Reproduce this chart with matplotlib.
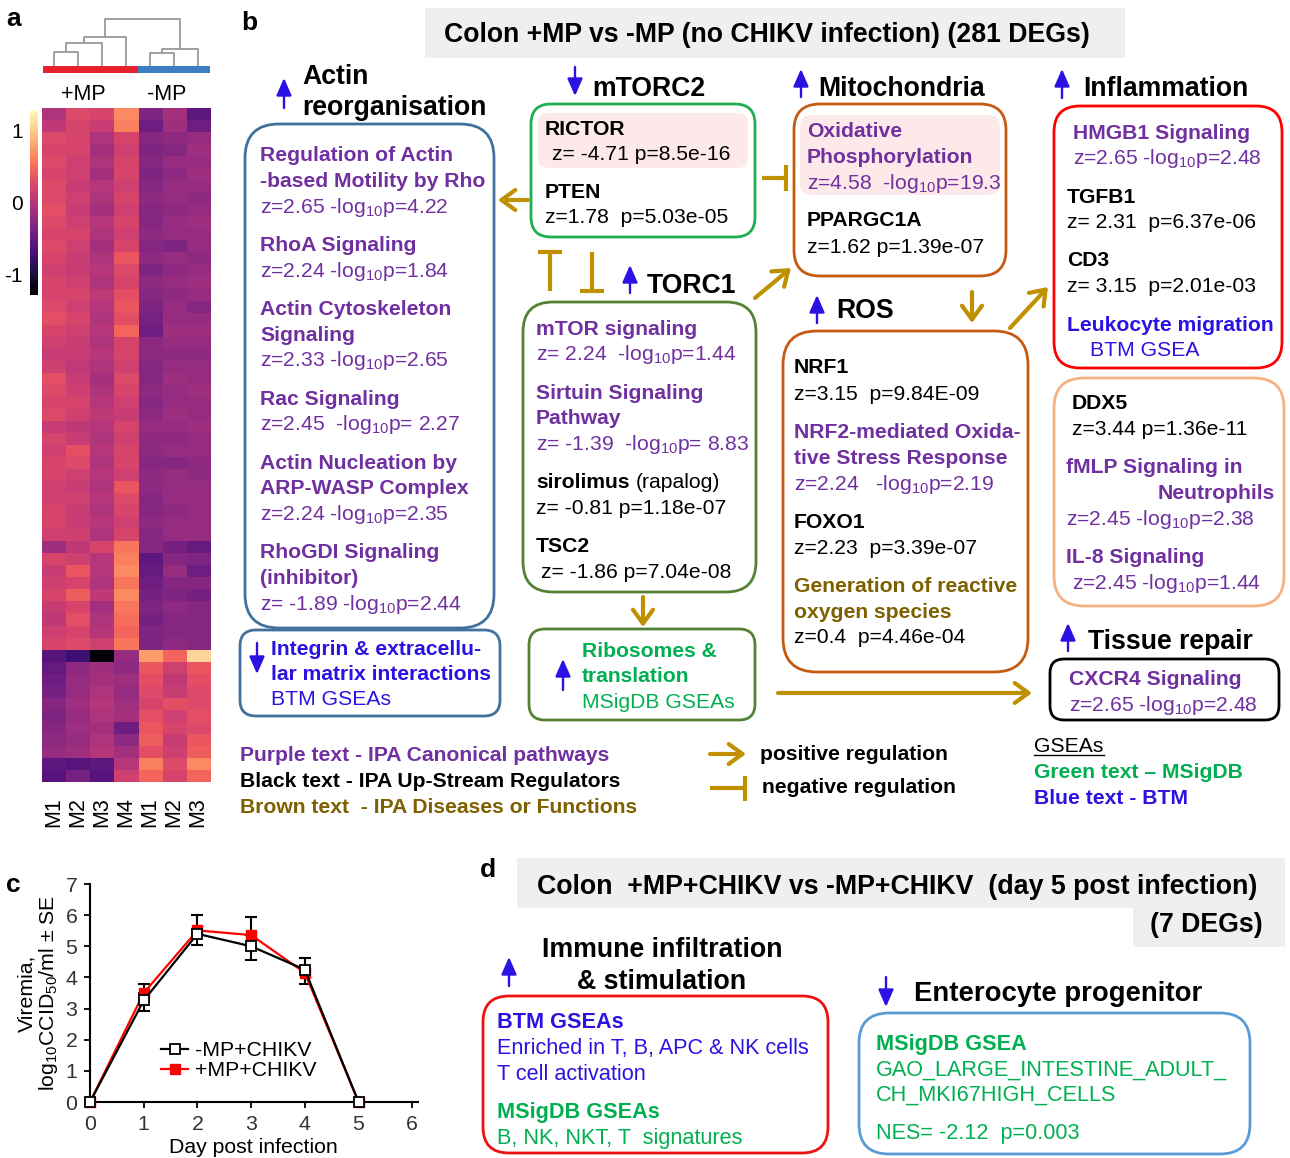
import numpy as np
import matplotlib
matplotlib.use('Agg')
import matplotlib.pyplot as plt
from matplotlib.patches import FancyBboxPatch, Rectangle, FancyArrowPatch

plt.rcParams['font.family'] = ['Liberation Sans', 'DejaVu Sans']
plt.rcParams['mathtext.fontset'] = 'custom'
plt.rcParams['mathtext.rm'] = 'Liberation Sans'
plt.rcParams['mathtext.it'] = 'Liberation Sans:italic'
plt.rcParams['mathtext.bf'] = 'Liberation Sans:bold'

# ---------------- data ----------------
heat_cols = ['M1', 'M2', 'M3', 'M4', 'M1', 'M2', 'M3']
group_labels = ['+MP', '-MP']
cluster1 = [
    [-0.05, 0.25, 0.2, 0.65, -0.35, -0.1, -0.55],
    [0.05, 0.2, 0.1, 0.6, -0.45, -0.15, -0.45],
    [0.25, 0.2, -0.05, 0.2, -0.3, -0.25, -0.2],
    [0.2, 0.2, -0.1, 0.15, -0.35, -0.3, -0.15],
    [0.25, 0.15, -0.05, 0.2, -0.3, -0.2, -0.2],
    [0.2, 0.15, -0.1, 0.2, -0.35, -0.25, -0.15],
    [0.25, 0.1, 0.0, 0.15, -0.3, -0.2, -0.2],
    [0.25, 0.15, -0.05, 0.2, -0.25, -0.2, -0.25],
    [0.3, 0.1, -0.1, 0.15, -0.3, -0.25, -0.2],
    [0.25, 0.15, 0.0, 0.2, -0.3, -0.2, -0.15],
    [0.2, 0.2, -0.05, 0.15, -0.25, -0.2, -0.2],
    [0.25, 0.15, -0.1, 0.2, -0.3, -0.35, -0.2],
    [0.2, 0.1, -0.05, 0.35, -0.25, -0.2, -0.25],
    [0.15, 0.1, 0.0, 0.25, -0.35, -0.25, -0.2],
    [0.2, 0.15, -0.05, 0.2, -0.25, -0.2, -0.15],
    [0.2, 0.2, 0.05, 0.3, -0.3, -0.25, -0.2],
    [0.25, 0.15, 0.0, 0.35, -0.35, -0.2, -0.3],
    [0.3, 0.2, -0.05, 0.3, -0.4, -0.2, -0.2],
    [0.2, 0.15, 0.0, 0.45, -0.45, -0.15, -0.15],
    [0.15, 0.1, -0.05, 0.2, -0.25, -0.2, -0.2],
    [0.1, 0.1, 0.0, 0.2, -0.25, -0.25, -0.25],
    [0.15, 0.05, -0.05, 0.15, -0.3, -0.2, -0.2],
    [0.3, 0.1, -0.1, 0.25, -0.3, -0.15, -0.2],
    [0.25, 0.15, -0.05, 0.2, -0.25, -0.2, -0.15],
    [0.2, 0.2, 0.0, 0.15, -0.3, -0.2, -0.2],
    [0.25, 0.15, 0.05, 0.1, -0.25, -0.15, -0.2],
    [0.1, 0.05, 0.0, 0.2, -0.2, -0.2, -0.15],
    [0.2, 0.1, -0.05, 0.15, -0.25, -0.25, -0.2],
    [0.15, 0.3, 0.0, 0.2, -0.25, -0.2, -0.2],
    [0.2, 0.25, -0.05, 0.2, -0.3, -0.3, -0.25],
    [0.2, 0.15, 0.0, 0.15, -0.25, -0.2, -0.25],
    [0.15, 0.1, -0.05, 0.35, -0.25, -0.2, -0.2],
    [0.15, 0.15, 0.0, 0.25, -0.3, -0.2, -0.2],
    [0.2, 0.1, -0.05, 0.2, -0.3, -0.25, -0.2],
    [0.2, 0.1, 0.0, 0.15, -0.25, -0.2, -0.2],
    [0.15, 0.15, -0.05, 0.2, -0.3, -0.2, -0.2],
]
cluster2 = [
    [-0.15, 0.05, 0.2, 0.55, -0.3, -0.4, -0.5],
    [0.2, 0.15, 0.0, 0.6, -0.55, -0.3, -0.35],
    [0.1, 0.35, 0.0, 0.65, -0.5, -0.2, -0.45],
    [0.15, 0.2, -0.05, 0.55, -0.45, -0.3, -0.3],
    [0.2, 0.4, 0.05, 0.65, -0.4, -0.35, -0.4],
    [0.1, 0.2, -0.1, 0.55, -0.35, -0.25, -0.3],
    [0.05, 0.3, -0.05, 0.5, -0.4, -0.3, -0.3],
    [0.15, 0.2, 0.0, 0.45, -0.35, -0.3, -0.3],
    [0.2, 0.25, 0.15, 0.55, -0.35, -0.25, -0.3],
]
cluster3 = [
    [-0.6, -0.75, -1.25, -0.2, 0.75, 0.45, 1.05],
    [-0.5, -0.25, -0.15, -0.25, 0.35, 0.15, 0.35],
    [-0.45, -0.2, -0.1, -0.15, 0.3, 0.05, 0.3],
    [-0.4, -0.2, -0.05, -0.2, 0.25, 0.1, 0.25],
    [-0.3, -0.15, 0.0, -0.15, 0.2, 0.3, 0.25],
    [-0.35, -0.2, -0.05, -0.1, 0.3, 0.15, 0.3],
    [-0.3, -0.15, -0.1, -0.45, 0.35, 0.2, 0.25],
    [-0.25, -0.2, -0.05, -0.25, 0.4, 0.1, 0.35],
    [-0.2, -0.15, 0.0, -0.1, 0.3, 0.15, 0.4],
    [-0.55, -0.6, -0.55, 0.0, 0.6, 0.25, 0.65],
    [-0.6, -0.4, -0.6, 0.15, 0.45, 0.2, 0.45],
]
# dendrogram merges (cluster a, cluster b, height); new clusters numbered from 7
dendro_merges = [(0, 1, 13), (7, 2, 22), (8, 3, 28), (4, 5, 12), (10, 6, 16), (9, 11, 46)]
cbar_ticks = [-1, 0, 1]

days = [0, 1, 2, 3, 4, 5]
minus_mean = [0, 3.26, 5.40, 5.00, 4.25, 0]
minus_se = [0, 0.34, 0.35, 0.43, 0.45, 0]
plus_mean = [0, 3.50, 5.51, 5.36, 4.15, 0]
plus_se = [0, 0.29, 0.50, 0.58, 0.46, 0]
series_labels = ['-MP+CHIKV', '+MP+CHIKV']

# ---------------- styles ----------------
PURPLE = '#7030a0'
BLUE = '#2b12e2'
GREEN = '#00b050'
BROWN = '#7f6000'
GOLD = '#bf9000'
FS = 15.2     # box text
TS = 19.2     # section titles
DS = 15.6     # panel d box text
DT = 19.3     # panel d titles
W, H = 1290, 1158

fig = plt.figure(figsize=(12.9, 11.58), dpi=100)
ov = fig.add_axes([0, 0, 1, 1])
ov.set_xlim(0, W)
ov.set_ylim(H, 0)
ov.axis('off')


def T(x, y, s, size=FS, color='black', bold=False, ha='left', family=None, **kw):
    kws = dict(fontsize=size, color=color, fontweight='bold' if bold else 'normal',
               ha=ha, va='baseline')
    if family is not None:
        kws['family'] = family
    kws.update(kw)
    return ov.text(x, y, s, **kws)


def box(x0, y0, x1, y1, ec, lw=2.0, r=24, fc='none', z=1):
    ov.add_patch(FancyBboxPatch((x0, y0), x1 - x0, y1 - y0,
                                boxstyle=f"round,pad=0,rounding_size={r}",
                                ec=ec, fc=fc, lw=lw, zorder=z))


def barrow(x, y0, y1, color=BLUE):
    ov.add_patch(FancyArrowPatch((x, y0), (x, y1),
                                 arrowstyle='-|>,head_length=0.75,head_width=0.33',
                                 mutation_scale=14, lw=1.7, color=color,
                                 shrinkA=0, shrinkB=0))


def garrow(x0, y0, x1, y1):
    ov.add_patch(FancyArrowPatch((x0, y0), (x1, y1),
                                 arrowstyle='->,head_length=0.55,head_width=0.4',
                                 mutation_scale=18, lw=3, color=GOLD,
                                 shrinkA=0, shrinkB=0))


def gline(xs, ys):
    ov.plot(xs, ys, color=GOLD, lw=3, solid_capstyle='butt')


# ---------------- panel a: heatmap ----------------
hx0, hx1, hy0, hy1 = 42, 210, 108, 782
heat = np.array(cluster1 + cluster2 + cluster3)
axh = fig.add_axes([hx0 / W, 1 - hy1 / H, (hx1 - hx0) / W, (hy1 - hy0) / H])
im = axh.imshow(heat, cmap='magma', vmin=-1.28, vmax=1.28, aspect='auto',
                interpolation='nearest')
axh.set_xticks(range(len(heat_cols)))
axh.set_xticklabels(heat_cols, rotation=90, fontsize=15.5)
axh.tick_params(axis='x', length=0, pad=11)
axh.set_yticks([])
for s in axh.spines.values():
    s.set_visible(False)

cax = fig.add_axes([30 / W, 1 - 295 / H, 8 / W, 185 / H])
cb = fig.colorbar(im, cax=cax, ticks=cbar_ticks)
cb.outline.set_visible(False)
cax.yaxis.set_ticks_position('left')
cax.tick_params(length=0, labelsize=15, pad=5)
cax.set_yticklabels([str(t) for t in cbar_ticks])

# dendrogram
colw = (hx1 - hx0) / len(heat_cols)
pos = {i: (hx0 + colw * (i + 0.5), 0.0) for i in range(len(heat_cols))}
leaf_y = 65
nid = len(heat_cols)
for a, b, h in dendro_merges:
    xa, ha_ = pos[a]
    xb, hb = pos[b]
    ov.plot([xa, xa, xb, xb], [leaf_y - ha_, leaf_y - h, leaf_y - h, leaf_y - hb],
            color='#999999', lw=1.3)
    pos[nid] = ((xa + xb) / 2, h)
    nid += 1
ov.add_patch(Rectangle((43, 66), 95, 7, color='#e8222a', lw=0))
ov.add_patch(Rectangle((138, 66), 72, 7, color='#3a7fc0', lw=0))
T(83, 100, group_labels[0], size=15.5, ha='center')
T(167, 100, group_labels[1], size=15.5, ha='center')

T(6, 26, 'a', size=19, bold=True)
T(241, 30, 'b', size=19, bold=True)
T(6, 892, 'c', size=19, bold=True)
T(480, 877, 'd', size=19, bold=True)

# ---------------- panel b ----------------
ov.add_patch(Rectangle((425, 8), 700, 50, color='#efefef', lw=0, zorder=0))
T(767, 42, 'Colon +MP vs -MP (no CHIKV infection) (281 DEGs)', size=TS, bold=True, ha='center')

L10 = '-log$_{10}$p'
# Actin reorganisation
barrow(284, 108, 78)
T(302, 84, 'Actin', size=TS, bold=True)
T(302, 115, 'reorganisation', size=TS, bold=True)
box(245, 124, 494, 628, '#41719c', r=34)
ax_ = 260
items = [
    (161, 'Regulation of Actin', True), (187, '-based Motility by Rho', True),
    (213, 'z=2.65 ' + L10 + '=4.22', False),
    (251, 'RhoA Signaling', True), (277, 'z=2.24 ' + L10 + '=1.84', False),
    (315, 'Actin Cytoskeleton', True), (341, 'Signaling', True),
    (366, 'z=2.33 ' + L10 + '=2.65', False),
    (405, 'Rac Signaling', True), (430, 'z=2.45  ' + L10 + '= 2.27', False),
    (469, 'Actin Nucleation by', True), (494, 'ARP-WASP Complex', True),
    (520, 'z=2.24 ' + L10 + '=2.35', False),
    (558, 'RhoGDI Signaling', True), (584, '(inhibitor)', True),
    (610, 'z= -1.89 ' + L10 + '=2.44', False),
]
for y, s, b in items:
    T(ax_, y, s, color=PURPLE, bold=b)

# Integrin box
box(240, 630, 500, 716, '#41719c', r=16)
barrow(257, 643, 674)
T(271, 655, 'Integrin & extracellu-', color=BLUE, bold=True)
T(271, 680, 'lar matrix interactions', color=BLUE, bold=True)
T(271, 705, 'BTM GSEAs', color=BLUE)

# mTORC2
barrow(575, 67, 96)
T(592, 96, 'mTORC2', size=TS, bold=True)
box(531, 104, 755, 237, '#1fae50', r=20)
box(538, 113, 748, 168, 'none', lw=0, r=10, fc='#fde9e9', z=0)
T(545, 135, 'RICTOR', bold=True)
T(552, 160, 'z= -4.71 p=8.5e-16')
T(545, 198, 'PTEN', bold=True)
T(545, 223, 'z=1.78  p=5.03e-05')
garrow(528, 200, 498, 200)

# inhibition symbols between mTORC2 and TORC1
gline([538, 562], [252, 252])
gline([550, 550], [252, 291])
gline([580, 604], [291, 291])
gline([592, 592], [252, 291])

# TORC1
barrow(630, 293, 265)
T(647, 293, 'TORC1', size=TS, bold=True)
box(523, 302, 756, 592, '#548235', r=30)
tx = 536
T(tx, 335, 'mTOR signaling', color=PURPLE, bold=True)
T(tx, 360, 'z= 2.24  ' + L10 + '=1.44', color=PURPLE)
T(tx, 399, 'Sirtuin Signaling', color=PURPLE, bold=True)
T(tx, 424, 'Pathway', color=PURPLE, bold=True)
T(tx, 450, 'z= -1.39  ' + L10 + '= 8.83', color=PURPLE)
T(tx, 488, 'sirolimus', bold=True)
T(636, 488, '(rapalog)')
T(tx, 514, 'z= -0.81 p=1.18e-07')
T(tx, 552, 'TSC2', bold=True)
T(541, 578, 'z= -1.86 p=7.04e-08')
garrow(643, 597, 643, 627)

# Ribosomes
box(529, 629, 755, 720, '#548235', r=16)
barrow(563, 690, 659)
T(582, 657, 'Ribosomes &', color=GREEN, bold=True)
T(582, 682, 'translation', color=GREEN, bold=True)
T(582, 708, 'MSigDB GSEAs', color=GREEN)
garrow(778, 693, 1032, 693)

# inhibition to mitochondria
gline([762, 786], [178, 178])
gline([786, 786], [165, 191])
garrow(755, 298, 791, 268)

# Mitochondria
barrow(801, 97, 69)
T(818, 96, 'Mitochondria', size=TS, bold=True)
box(794, 104, 1006, 276, '#c55a11', r=26)
box(800, 115, 1000, 195, 'none', lw=0, r=12, fc='#fde9e9', z=0)
T(807, 137, 'Oxidative', color=PURPLE, bold=True)
T(807, 163, 'Phosphorylation', color=PURPLE, bold=True)
T(807, 189, 'z=4.58  ' + L10 + '=19.3', color=PURPLE)
T(807, 226, 'PPARGC1A', bold=True)
T(807, 253, 'z=1.62 p=1.39e-07')

# ROS
barrow(817, 323, 295)
T(836, 318, 'ROS', size=TS, bold=True)
garrow(972, 292, 972, 323)
box(783, 331, 1028, 672, '#c55a11', r=34)
rx = 794
T(rx, 373, 'NRF1', bold=True)
T(rx, 400, 'z=3.15  p=9.84E-09')
T(rx, 438, 'NRF2-mediated Oxida-', color=PURPLE, bold=True)
T(rx, 464, 'tive Stress Response', color=PURPLE, bold=True)
T(rx, 490, 'z=2.24   ' + L10 + '=2.19', color=PURPLE)
T(rx, 528, 'FOXO1', bold=True)
T(rx, 554, 'z=2.23  p=3.39e-07')
T(rx, 592, 'Generation of reactive', color=BROWN, bold=True)
T(rx, 618, 'oxygen species', color=BROWN, bold=True)
T(rx, 643, 'z=0.4  p=4.46e-04')
garrow(1010, 328, 1048, 287)

# Inflammation
barrow(1062, 98, 69)
T(1083, 96, 'Inflammation', size=TS, bold=True)
box(1054, 106, 1282, 368, '#ff0000', r=26)
T(1073, 139, 'HMGB1 Signaling', color=PURPLE, bold=True)
T(1073, 164, 'z=2.65 ' + L10 + '=2.48', color=PURPLE)
T(1067, 203, 'TGFB1', bold=True)
T(1067, 228, 'z= 2.31  p=6.37e-06')
T(1067, 266, 'CD3', bold=True)
T(1067, 292, 'z= 3.15  p=2.01e-03')
T(1067, 331, 'Leukocyte migration', color=BLUE, bold=True)
T(1090, 356, 'BTM GSEA', color=BLUE)

box(1054, 378, 1284, 606, '#f4b183', r=30)
T(1072, 409, 'DDX5', bold=True)
T(1072, 435, 'z=3.44 p=1.36e-11')
T(1066, 473, 'fMLP Signaling in', color=PURPLE, bold=True)
T(1275, 499, 'Neutrophils', color=PURPLE, bold=True, ha='right')
T(1066, 525, 'z=2.45 ' + L10 + '=2.38', color=PURPLE)
T(1066, 563, 'IL-8 Signaling', color=PURPLE, bold=True)
T(1072, 589, 'z=2.45 ' + L10 + '=1.44', color=PURPLE)

# Tissue repair
barrow(1068, 651, 623)
T(1088, 649, 'Tissue repair', size=TS, bold=True)
box(1050, 659, 1279, 720, 'black', r=14)
T(1069, 685, 'CXCR4 Signaling', color=PURPLE, bold=True)
T(1069, 711, 'z=2.65 ' + L10 + '=2.48', color=PURPLE)

# legend texts
T(240, 761, 'Purple text - IPA Canonical pathways', color=PURPLE, bold=True)
T(240, 787, 'Black text - IPA Up-Stream Regulators', bold=True)
T(240, 813, 'Brown text  - IPA Diseases or Functions', color=BROWN, bold=True)
garrow(710, 754, 746, 754)
T(760, 760, 'positive regulation', bold=True)
gline([710, 745], [788, 788])
gline([745, 745], [776, 801])
T(762, 793, 'negative regulation', bold=True)
T(1034, 752, 'GSEAs')
ov.plot([1034, 1104], [755, 755], color='black', lw=1)
T(1034, 778, 'Green text \u2013 MSigDB', color=GREEN, bold=True)
T(1034, 804, 'Blue text - BTM', color=BLUE, bold=True)

# ---------------- panel c ----------------
cx0, cx1, cy0, cy1 = 90, 417.6, 884, 1102
axc = fig.add_axes([cx0 / W, 1 - cy1 / H, (cx1 - cx0) / W, (cy1 - cy0) / H])
axc.patch.set_alpha(0)
axc.errorbar(days, plus_mean, yerr=[np.zeros(len(days)), plus_se], fmt='none',
             ecolor='black', elinewidth=1.5, capsize=4, capthick=1.5, zorder=2, clip_on=False)
axc.errorbar(days, minus_mean, yerr=[minus_se, np.zeros(len(days))], fmt='none',
             ecolor='black', elinewidth=1.5, capsize=4, capthick=1.5, zorder=2, clip_on=False)
l2, = axc.plot(days, plus_mean, color='#ff0000', lw=1.6, marker='s', ms=7,
               mfc='#ff0000', mec='#ff0000', zorder=3, clip_on=False, label=series_labels[1])
l1, = axc.plot(days, minus_mean, color='black', lw=1.6, marker='s', ms=7,
               mfc='white', mec='black', mew=1.3, zorder=4, clip_on=False, label=series_labels[0])
axc.set_xlim(0, 6.1)
axc.set_ylim(0, 7)
axc.set_xticks(range(0, 7))
axc.set_yticks(range(0, 8))
for s in ['top', 'right']:
    axc.spines[s].set_visible(False)
for s in ['left', 'bottom']:
    axc.spines[s].set_linewidth(1.5)
axc.tick_params(direction='out', length=4, width=1.3, labelsize=15.3, labelcolor='#333333',
                pad=5)
axc.set_xlabel('Day post infection', fontsize=15.3, labelpad=3)
axc.set_ylabel('Viremia,\nlog$_{10}$CCID$_{50}$/ml \u00b1 SE', fontsize=15.3, labelpad=4,
               linespacing=1.05)
axc.legend(handles=[l1, l2], loc='lower left', bbox_to_anchor=(0.19, 0.06), frameon=False,
           fontsize=15.3, handlelength=1.3, handletextpad=0.3, labelspacing=0.05,
           borderaxespad=0)

# ---------------- panel d ----------------
ov.add_patch(Rectangle((517, 858), 768, 50, color='#efefef', lw=0, zorder=0))
ov.add_patch(Rectangle((1133, 908), 152, 39, color='#efefef', lw=0, zorder=0))
T(537, 894, 'Colon  +MP+CHIKV vs -MP+CHIKV  (day 5 post infection)', size=DT, bold=True)
T(1263, 932, '(7 DEGs)', size=DT, bold=True, ha='right')

barrow(509, 986, 957)
T(662, 957, 'Immune infiltration', size=DT, bold=True, ha='center')
T(662, 989, '& stimulation', size=DT, bold=True, ha='center')
box(483, 996, 828, 1153, '#ee1111', r=26)
T(497, 1028, 'BTM GSEAs', color=BLUE, bold=True, size=DS)
T(497, 1054, 'Enriched in T, B, APC & NK cells', color=BLUE, size=DS)
T(497, 1080, 'T cell activation', color=BLUE, size=DS)
T(497, 1118, 'MSigDB GSEAs', color=GREEN, bold=True, size=DS)
T(497, 1144, 'B, NK, NKT, T  signatures', color=GREEN, size=DS)

barrow(886, 977, 1007)
T(914, 1001, 'Enterocyte progenitor', size=19.8, bold=True)
box(859, 1013, 1250, 1154, '#5b9bd5', r=30)
T(876, 1050, 'MSigDB GSEA', color=GREEN, bold=True, size=DS)
T(876, 1076, 'GAO_LARGE_INTESTINE_ADULT_', color=GREEN, size=DS)
T(876, 1101, 'CH_MKI67HIGH_CELLS', color=GREEN, size=DS)
T(876, 1139, 'NES= -2.12  p=0.003', color=GREEN, size=DS)

fig.savefig('out.png', dpi=100)
